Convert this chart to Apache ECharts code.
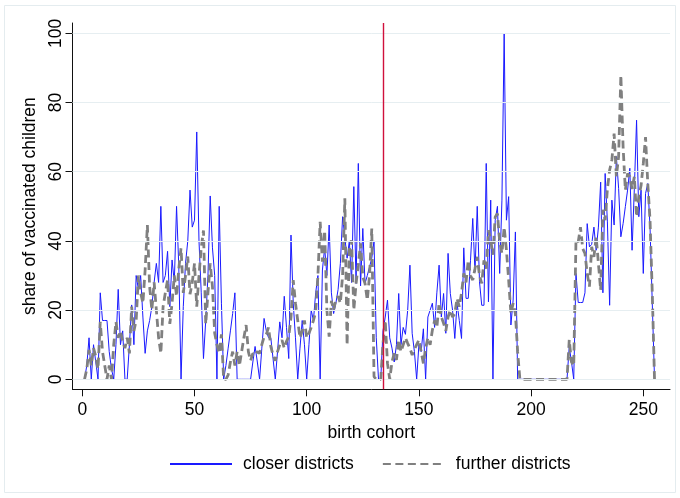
<!DOCTYPE html>
<html>
<head>
<meta charset="utf-8">
<script src="https://cdn.jsdelivr.net/npm/echarts@6/dist/echarts.min.js"></script>
<style>
  html, body { margin: 0; padding: 0; background: #fff; }
  #chart { width: 680px; height: 498px; }
</style>
</head>
<body>
<div id="chart"></div>
<script>
// Share of vaccinated children by birth cohort, closer vs further districts
const closerDistricts = [
  0, 4, 12, 0, 10, 5, 0, 25, 17, 17,
  17, 8, 3, 0, 10, 26, 10, 14, 0, 0,
  10, 21.5, 10, 30, 26, 30, 18, 7.5, 14, 17,
  21, 28, 33.5, 28, 50, 28, 30, 37, 21, 34.5,
  28, 50, 32.6, 0, 21, 33.5, 40, 54.7, 44, 46,
  71.5, 40, 25, 6, 17, 30, 53, 38, 30, 0,
  50, 22, 0, 4, 9, 14, 19, 25, 0, 0,
  0, 0, 0, 0, 0, 5, 9.5, 5, 0, 9,
  17.6, 14, 12, 12, 6, 0, 8, 16.6, 12, 24,
  15, 6, 41.7, 22, 12, 0, 9, 17, 10, 0,
  10, 20, 17, 25, 30, 0, 31.6, 38, 30, 44.6,
  25, 19, 22, 26, 33.5, 47, 41, 35, 40, 28,
  55.7, 27.7, 62.4, 27, 43.6, 27.7, 30, 32.5, 35, 40,
  12, 0, 0, 14, 18, 22.9, 12, 9, 5, 10,
  24.8, 10, 15, 13, 20, 33, 13.3, 8, 0, 10,
  8, 14.6, 0, 18, 20, 22, 15, 25, 33, 18,
  24.8, 13.3, 36.4, 24.8, 20, 11.8, 22, 17, 11.8, 38,
  23.4, 23.4, 34.4, 46.5, 31, 50, 28.2, 21.4, 21.4, 62.4,
  22.4, 51.8, 0, 46, 50, 30.6, 51.8, 100, 46, 52.8,
  15.7, 22.9, 42.6, 0, 0, 0, 0, 0, 0, 0,
  0, 0, 0, 0, 0, 0, 0, 0, 0, 0,
  0, 0, 0, 0, 0, 0, 9.4, 5, 0, 30.6,
  22.2, 22.2, 22.2, 25, 45, 38.3, 39, 44, 37.3, 44,
  57, 25, 59.5, 45.5, 21.4, 51.8, 44.6, 64.4, 55.2, 41.2,
  45, 49.9, 54.7, 61, 37.3, 55, 74.9, 47, 54.7, 30.6,
  53.7, 56.6, 44, 22, 0
];

const furtherDistricts = [
  0, 3, 8.5, 4, 9, 6.6, 3, 16.6, 8, 4,
  0, 4, 0, 10, 16.6, 12, 14, 11, 9, 12,
  7.5, 21, 14, 17, 30, 25, 22, 31.6, 44.6, 26.8,
  20, 28, 20, 12, 7.5, 21, 25, 28.7, 16, 22,
  30, 24, 32, 37.9, 25, 30, 35.5, 24.6, 28, 33.5,
  21, 30, 38, 43, 16, 25, 33.5, 26.8, 13.3, 10,
  7.5, 13, 0, 0, 1.3, 5, 8, 4, 8, 3.9,
  8, 12, 15.7, 8, 5.4, 7.5, 7, 8, 7.5, 10,
  12.3, 13, 15, 9.5, 7, 5.4, 8, 10, 11.3, 9,
  11, 12.3, 18, 28.7, 22, 17, 12, 14, 17, 12,
  13.3, 15, 17, 19.5, 30, 45.5, 34, 43, 20, 12.3,
  22.7, 20, 23, 24, 22, 30, 52.3, 9.9, 37.4, 40.2,
  20, 27.7, 33, 39.3, 29.6, 27.7, 22.9, 30, 43.6, 0.8,
  0, 0, 0, 10.4, 17, 4.6, 0, 5, 7.5, 5.6,
  11.4, 8, 10, 12, 10.4, 9, 7, 8.6, 10, 11.4,
  8, 4.6, 9, 12, 10, 14.2, 17, 15, 22, 18,
  16.2, 14, 18, 20, 18, 19, 23.4, 21, 25, 30.6,
  28, 34.4, 30, 28.7, 32, 35.4, 30, 27.7, 34.4, 32,
  43.1, 40.2, 36, 46.9, 47.9, 40, 36.4, 44, 37.4, 28.7,
  19, 22, 19, 8, 0, 0, 0, 0, 0, 0,
  0, 0, 0, 0, 0, 0, 0, 0, 0, 0,
  0, 0, 0, 0, 0, 0, 11.4, 5, 3.9, 40.2,
  39.7, 44, 37.8, 36.4, 30.6, 26.8, 38.3, 35.4, 41.2, 33.5,
  25.8, 49, 46, 55, 60.5, 63.4, 71, 58.6, 64.4, 87.9,
  67.2, 54.7, 59.5, 58.6, 55, 58.6, 47, 52.8, 56, 62.4,
  70, 56.6, 46, 25, 0
];

// birth cohorts 1..255
const birthCohorts = closerDistricts.map((_, i) => i + 1);

const xTickValues = [0, 50, 100, 150, 200, 250];
const yTickValues = [0, 20, 40, 60, 80, 100];
const cutoffCohort = 134;

const seriesNames = ['closer districts', 'further districts'];

const FONT = 'Liberation Sans, Arial, sans-serif';

const chart = echarts.init(document.getElementById('chart'), null, { renderer: 'canvas' });

const pairs = (ys) => birthCohorts.map((x, i) => [x, ys[i]]);

chart.setOption({
  animation: false,
  backgroundColor: '#ffffff',
  textStyle: { fontFamily: FONT },
  graphic: [{
    type: 'rect',
    shape: { x: 4.5, y: 5.5, width: 671, height: 487 },
    style: { fill: 'none', stroke: '#e4ecef', lineWidth: 1 },
    silent: true,
    z: -1
  }],
  grid: { left: 72.5, right: 10, top: 23, bottom: 108.7 },
  legend: {
    data: seriesNames,
    left: 169,
    top: 455,
    padding: 0,
    itemWidth: 62,
    itemHeight: 14,
    itemGap: 28,
    itemStyle: { color: 'rgba(0,0,0,0)', borderWidth: 0, opacity: 0 },
    textStyle: { fontFamily: FONT, fontSize: 17.5, color: '#000', padding: [0, 0, 0, 6] },
    selectedMode: false
  },
  xAxis: {
    type: 'value',
    min: -4.37,
    max: 261.9,
    name: 'birth cohort',
    nameLocation: 'middle',
    nameGap: 28,
    nameTextStyle: { fontFamily: FONT, fontSize: 17.5, color: '#000' },
    axisLine: { show: true, onZero: false, lineStyle: { color: '#111', width: 1 } },
    axisTick: { show: true, length: 7, lineStyle: { color: '#111' }, customValues: xTickValues },
    axisLabel: { fontFamily: FONT, fontSize: 17.5, color: '#000', margin: 12, customValues: xTickValues },
    splitLine: { show: false }
  },
  yAxis: {
    type: 'value',
    min: -2.89,
    max: 103,
    name: 'share of vaccinated children',
    nameLocation: 'middle',
    nameGap: 20,
    nameRotate: 90,
    nameTextStyle: { fontFamily: FONT, fontSize: 17.5, color: '#000' },
    axisLine: { show: true, onZero: false, lineStyle: { color: '#111', width: 1 } },
    axisTick: { show: true, length: 7, lineStyle: { color: '#111' }, customValues: yTickValues },
    axisLabel: { fontFamily: FONT, fontSize: 17.5, color: '#000', margin: 7, rotate: 90, customValues: yTickValues },
    splitLine: { show: false }
  },
  series: [
    {
      // horizontal grid lines
      type: 'line',
      data: [],
      z: 1,
      silent: true,
      markLine: {
        silent: true,
        symbol: 'none',
        label: { show: false },
        lineStyle: { color: '#e6eef1', width: 1, type: 'solid' },
        data: yTickValues.map(v => ({ yAxis: v }))
      }
    },
    {
      name: seriesNames[0],
      type: 'line',
      data: pairs(closerDistricts),
      showSymbol: false,
      symbol: 'none',
      z: 2,
      lineStyle: { color: '#1a1aff', width: 1 },
      itemStyle: { color: '#1a1aff' }
    },
    {
      name: seriesNames[1],
      type: 'line',
      data: pairs(furtherDistricts),
      showSymbol: false,
      symbol: 'none',
      z: 3,
      lineStyle: { color: '#808080', width: 2.8, type: [8, 4.5] },
      itemStyle: { color: '#808080' }
    },
    {
      // treatment cutoff
      type: 'line',
      data: [],
      z: 4,
      silent: true,
      markLine: {
        silent: true,
        symbol: 'none',
        label: { show: false },
        lineStyle: { color: '#d0103c', width: 1.4, type: 'solid' },
        data: [{ xAxis: cutoffCohort }]
      }
    }
  ]
});
</script>
</body>
</html>
